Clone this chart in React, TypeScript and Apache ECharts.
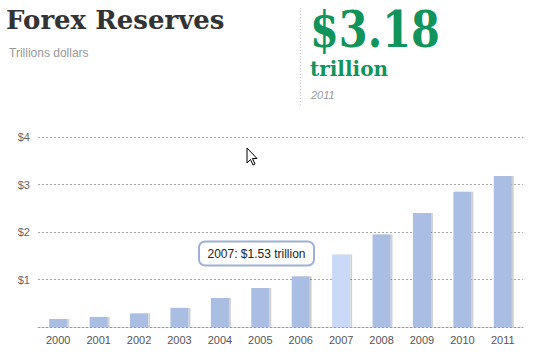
import React, { useEffect, useRef } from "react";
import * as echarts from "echarts";

const years = ["2000", "2001", "2002", "2003", "2004", "2005", "2006", "2007", "2008", "2009", "2010", "2011"];
const reserves = [0.166, 0.212, 0.286, 0.403, 0.61, 0.819, 1.066, 1.528, 1.946, 2.399, 2.847, 3.181];
const highlightIndex = 7;

export default function App() {
  const ref = useRef<HTMLDivElement>(null);
  useEffect(() => {
    if (!ref.current) return;
    const chart = echarts.init(ref.current, null, { renderer: "svg" });
    const sans = "'Liberation Sans', Arial, sans-serif";
    const slab = "'DejaVu Serif', serif";
    chart.setOption({
      animation: false,
      grid: { left: 38, right: 20, top: 137, bottom: 32 },
      xAxis: {
        type: "category",
        data: years,
        axisLine: { show: true, lineStyle: { color: "#9a9a9a", type: [2, 2], width: 1 } },
        axisTick: { show: false },
        axisLabel: { color: "#555", fontFamily: sans, fontSize: 11, margin: 7 },
      },
      yAxis: {
        type: "value",
        min: 0,
        max: 4,
        interval: 1,
        axisLine: { show: false },
        axisTick: { show: false },
        axisLabel: {
          color: "#666",
          fontFamily: sans,
          fontSize: 11,
          margin: 8,
          formatter: (v: number) => (v === 0 ? "" : "$" + v),
        },
        splitLine: { lineStyle: { color: "#a8a8a8", type: [2, 2], width: 1 } },
      },
      series: [
        {
          type: "bar",
          barWidth: 18,
          data: reserves.map((v, i) => ({
            value: v,
            itemStyle: {
              color: i === highlightIndex ? "#c9d9f7" : "#aabde3",
              shadowColor: "rgba(0,0,0,0.18)",
              shadowOffsetX: 2,
              shadowOffsetY: 0,
              shadowBlur: 1,
            },
          })),
        },
      ],
      graphic: [
        {
          type: "text",
          left: 6,
          top: 7,
          style: { text: "Forex Reserves", font: `bold 26px ${slab}`, fill: "#333" },
        },
        {
          type: "text",
          left: 9,
          top: 47,
          style: { text: "Trillions dollars", font: `12px ${sans}`, fill: "#999" },
        },
        {
          type: "line",
          shape: { x1: 300.5, y1: 8, x2: 300.5, y2: 106 },
          style: { stroke: "#c8c8c8", lineWidth: 1, lineDash: [1, 2] },
        },
        {
          type: "text",
          x: 310,
          y: 50,
          scaleX: 0.83,
          style: {
            text: "$3.18",
            font: `bold 50px ${slab}`,
            fill: "#11935c",
            verticalAlign: "bottom",
            lineHeight: 40,
          },
        },
        {
          type: "text",
          left: 310,
          top: 59,
          style: { text: "trillion", font: `bold 20px ${slab}`, fill: "#11935c", lineHeight: 20 },
        },
        {
          type: "text",
          left: 311,
          top: 89,
          style: { text: "2011", font: `italic 11px ${sans}`, fill: "#999" },
        },
        {
          type: "rect",
          shape: { x: 199, y: 241.5, width: 115, height: 24, r: 6 },
          style: { fill: "#fff", stroke: "#9fb0d6", lineWidth: 2 },
          z: 100,
        },
        {
          type: "text",
          x: 256.5,
          y: 253.5,
          style: {
            text: "2007: $1.53 trillion",
            font: `12px ${sans}`,
            fill: "#222",
            align: "center",
            verticalAlign: "middle",
          },
          z: 101,
        },
        {
          type: "polygon",
          shape: {
            points: [
              [247, 148], [247, 163], [250.5, 159.5], [253, 165], [255, 164], [252.5, 158.5], [257, 158.5],
            ],
          },
          style: { fill: "#fff", stroke: "#000", lineWidth: 1 },
          z: 102,
        },
      ],
    });
    return () => chart.dispose();
  }, []);
  return <div ref={ref} style={{ position: "fixed", left: 0, top: 0, width: 543, height: 359, background: "#fff" }} />;
}
